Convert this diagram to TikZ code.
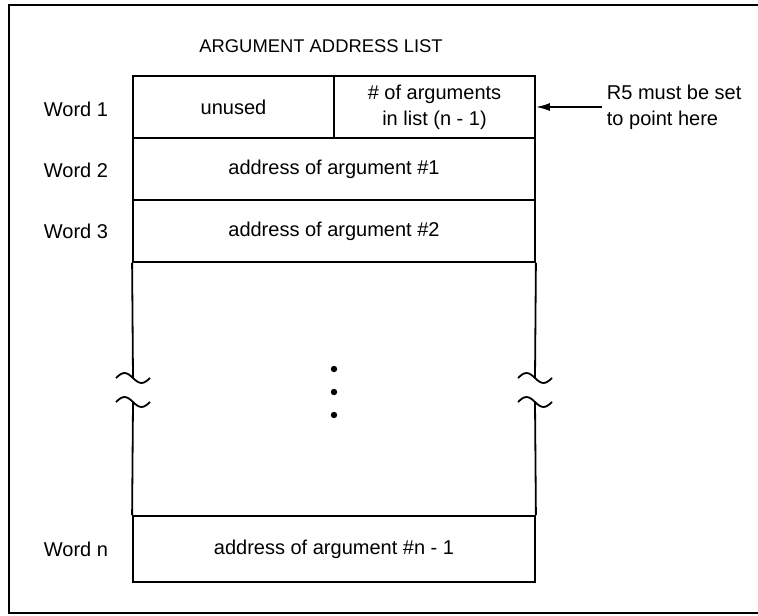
\documentclass[tikz,border=0pt]{standalone}
\usepackage{fontspec}
\setmainfont{Liberation Sans}
\usetikzlibrary{arrows.meta}

\begin{document}
\begin{tikzpicture}[x=0.5pt, y=-0.5pt, line width=0.9pt,
  every node/.style = {font=\fontsize{10}{13}\selectfont},
  cell/.style = {shape=rectangle, draw, inner sep=0pt,
    minimum height=31pt, align=center},
  halfcell/.style = {cell, minimum width=100.5pt},
  fullcell/.style = {cell, minimum width=201pt},
  wordlabel/.style = {anchor=base west, inner sep=0pt},
  note/.style = {anchor=west, align=left, inner xsep=2pt, inner ysep=0pt},
  pointer/.style = {-{Latex[length=7pt, width=4pt]}}]
  \useasboundingbox (0,0) rectangle (758,615);
  % frame, open on the right
  \draw[line width=1.2pt] (9,5) rectangle (790,613);
  \node[anchor=base, font=\fontsize{9.2}{11}\selectfont] (title) at (321,53)
    {ARGUMENT ADDRESS LIST};
  % the words of the list
  \node[halfcell] (unused) at (233.5,107) {unused};
  \node[halfcell] (count) at (434.5,107) {\# of arguments\\ in list (n - 1)};
  \node[fullcell] (arg1) at (334,169) {address of argument \#1};
  \node[fullcell] (arg2) at (334,231) {address of argument \#2};
  \node[fullcell, minimum height=33pt] (argn) at (334,549)
    {address of argument \#n - 1};
  \node[wordlabel] (word1) at (43,116) {Word 1};
  \node[wordlabel] (word2) at (43,177) {Word 2};
  \node[wordlabel] (word3) at (43,238) {Word 3};
  \node[wordlabel] (wordn) at (43,556) {Word n};
  % broken sides of the middle part
  \coordinate (lt) at (133,378);
  \coordinate (lb) at (133,402);
  \coordinate (rt) at (535,378);
  \coordinate (rb) at (535,402);
  \draw (arg2.south west) -- (lt);
  \draw (lb) -- (argn.north west);
  \draw (arg2.south east) -- (rt);
  \draw (rb) -- (argn.north east);
  \foreach \t in {lt, lb, rt, rb}
    \draw (\t) ++(-17,0) sin ++(8.5,-5) cos ++(8.5,5) sin ++(8.5,5) cos ++(8.5,-5);
  \foreach \y in {369, 392, 415}
    \fill (334,\y) circle (1.6pt);
  % R5 note
  \node[note] (r5) at (602,107) {R5 must be set\\ to point here};
  \draw[pointer] (r5.west) -- (count.east);
\end{tikzpicture}
\end{document}
